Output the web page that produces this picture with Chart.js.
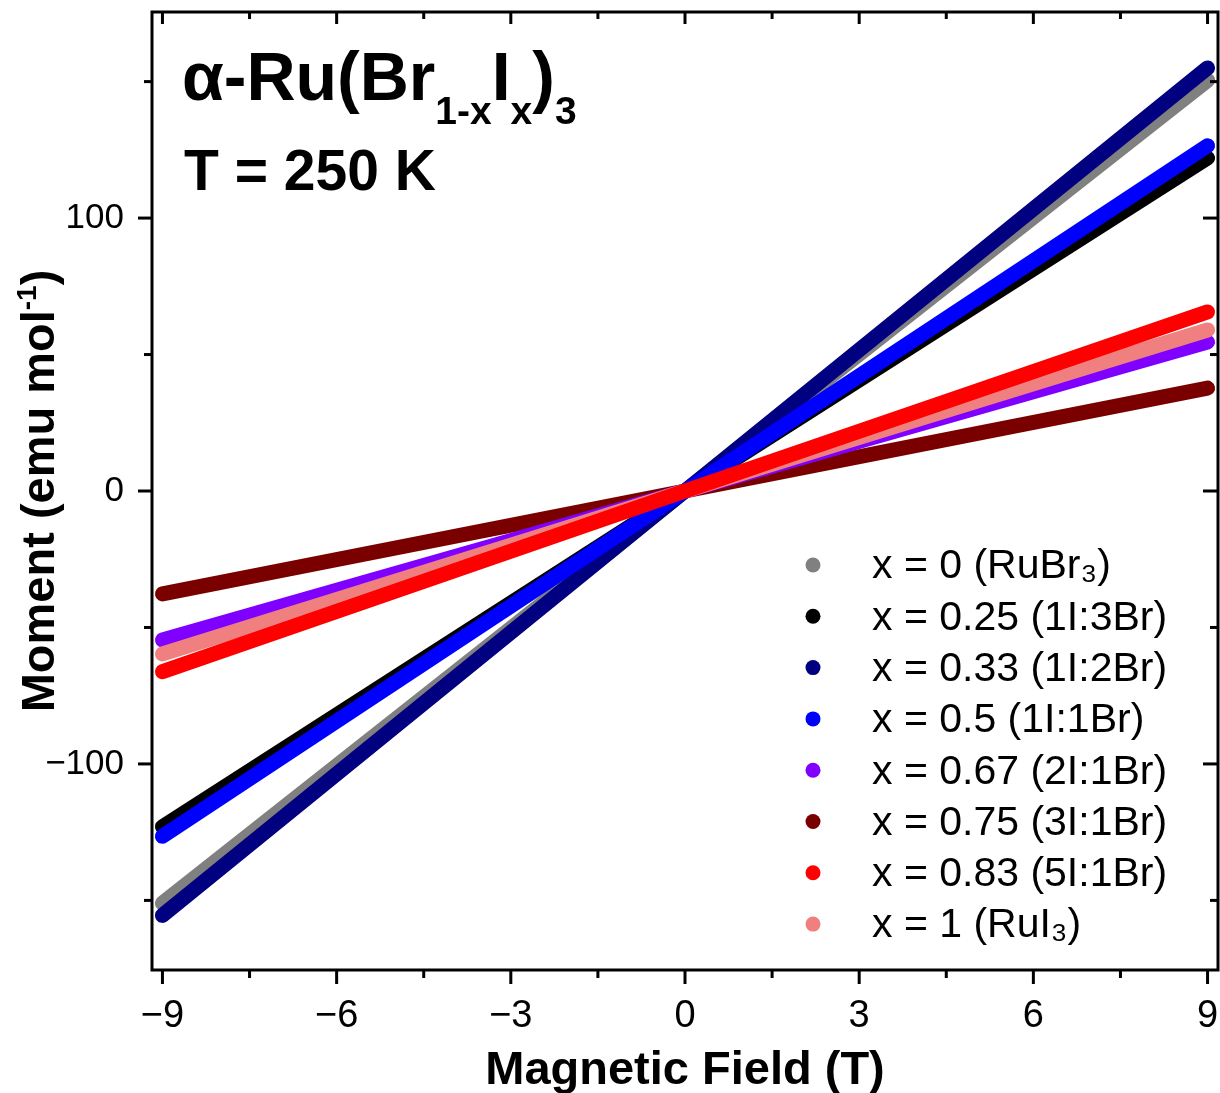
<!DOCTYPE html>
<html>
<head>
<meta charset="utf-8">
<title>Moment vs field</title>
<script src="https://cdn.jsdelivr.net/npm/chart.js@4"></script>
<style>
  html, body { margin: 0; padding: 0; background: #fff; }
  #wrap { width: 1220px; height: 1093px; }
</style>
</head>
<body>
<div id="wrap"><canvas id="mh" width="1220" height="1093"></canvas></div>
<script>
// ----- DATA -----
const field = [-9, 0, 9];                       // T
const seriesLabels = ['x = 0 (RuBr₃)', 'x = 0.25 (1I:3Br)', 'x = 0.33 (1I:2Br)', 'x = 0.5 (1I:1Br)',
                      'x = 0.67 (2I:1Br)', 'x = 0.75 (3I:1Br)', 'x = 0.83 (5I:1Br)', 'x = 1 (RuI₃)'];
const seriesColors = ['#808080', '#000000', '#000080', '#0000ff', '#8000ff', '#7a0000', '#ff0000', '#f08080'];
const x0    = [-151, 0, 150.5];                 // emu/mol
const x025  = [-123, 0, 122];
const x033  = [-155.5, 0, 155];
const x05   = [-126.5, 0, 126.5];
const x067  = [-54.6, 0, 54.6];
const x075  = [-37.7, 0, 37.7];
const x083  = [-66.2, 0, 65.6];
const x1    = [-59.7, 0, 59];
const moments = [x0, x025, x033, x05, x067, x075, x083, x1];
// lower = drawn on top
const drawOrder = [7, 6, 5, 1, 3, 4, 0, 2];

const xTicks = [-9, -6, -3, 0, 3, 6, 9];
const xMinor = [-7.5, -4.5, -1.5, 1.5, 4.5, 7.5];
const yTicks = [-100, 0, 100];
const yMinor = [-150, -50, 50, 150];

const FONT = '"Liberation Sans", Arial, Helvetica, sans-serif';
const minus = v => String(v).replace('-', '\u2212');

// ----- DATASETS -----
const datasets = moments.map((m, i) => ({
  label: seriesLabels[i],
  data: field.map((f, j) => ({x: f, y: m[j]})),
  borderColor: seriesColors[i],
  backgroundColor: seriesColors[i],
  borderWidth: 15,
  borderCapStyle: 'round',
  borderJoinStyle: 'round',
  pointRadius: 0,
  tension: 0,
  order: drawOrder[i]
}));

// scales shouldn't push the plot area in for their end labels
const noPad = s => { s.paddingTop = s.paddingBottom = s.paddingLeft = s.paddingRight = 0; };

// ----- FRAME, TICKS, TITLES, LEGEND -----
const decor = {
  id: 'decor',
  afterDraw(chart) {
    const ctx = chart.ctx;
    const a = chart.chartArea;
    const xs = chart.scales.x, ys = chart.scales.y;
    ctx.save();
    ctx.strokeStyle = '#000';
    ctx.fillStyle = '#000';

    // frame
    ctx.lineWidth = 3;
    ctx.strokeRect(a.left, a.top, a.right - a.left, a.bottom - a.top);

    // ticks: outward on bottom/left, inward on top/right
    const tick = (x1, y1, x2, y2) => { ctx.beginPath(); ctx.moveTo(x1, y1); ctx.lineTo(x2, y2); ctx.stroke(); };
    xTicks.forEach(v => {
      const p = xs.getPixelForValue(v);
      tick(p, a.bottom, p, a.bottom + 14);
      tick(p, a.top, p, a.top + 12);
    });
    xMinor.forEach(v => {
      const p = xs.getPixelForValue(v);
      tick(p, a.bottom, p, a.bottom + 8);
      tick(p, a.top, p, a.top + 7);
    });
    yTicks.forEach(v => {
      const p = ys.getPixelForValue(v);
      tick(a.left - 14, p, a.left, p);
      tick(a.right - 15, p, a.right, p);
    });
    yMinor.forEach(v => {
      const p = ys.getPixelForValue(v);
      tick(a.left - 8, p, a.left, p);
      tick(a.right - 8, p, a.right, p);
    });

    // compound name with subscripts
    ctx.textBaseline = 'alphabetic';
    ctx.textAlign = 'left';
    const runs = [
      ['α-Ru(Br', 'bold 68px', 0],
      ['1-x', 'bold 39px', 24],
      ['I', 'bold 68px', 0],
      ['x', 'bold 39px', 24],
      [')', 'bold 68px', 0],
      ['3', 'bold 39px', 24]
    ];
    let cx = 182;
    runs.forEach(([t, f, dy]) => {
      ctx.font = f + ' ' + FONT;
      ctx.fillText(t, cx, 100 + dy);
      cx += ctx.measureText(t).width;
    });
    ctx.font = 'bold 57px ' + FONT;
    ctx.fillText('T = 250 K', 184, 190);

    // x axis title
    ctx.font = 'bold 47px ' + FONT;
    ctx.textAlign = 'center';
    ctx.fillText('Magnetic Field (T)', (a.left + a.right) / 2, 1084);

    // y axis title with superscript
    ctx.save();
    ctx.translate(54, (a.top + a.bottom) / 2);
    ctx.rotate(-Math.PI / 2);
    ctx.textAlign = 'left';
    const yRuns = [['Moment (emu mol', 'bold 47px', 0], ['-1', 'bold 28px', -18], [')', 'bold 47px', 0]];
    let w = 0;
    yRuns.forEach(([t, f]) => { ctx.font = f + ' ' + FONT; w += ctx.measureText(t).width; });
    let yx = -w / 2;
    yRuns.forEach(([t, f, dy]) => {
      ctx.font = f + ' ' + FONT;
      ctx.fillText(t, yx, dy);
      yx += ctx.measureText(t).width;
    });
    ctx.restore();

    // legend
    ctx.font = '41px ' + FONT;
    ctx.textAlign = 'left';
    ctx.textBaseline = 'middle';
    seriesLabels.forEach((lab, i) => {
      const ly = 565 + i * 51.3;
      ctx.fillStyle = seriesColors[i];
      ctx.beginPath();
      ctx.arc(813, ly, 7.5, 0, Math.PI * 2);
      ctx.fill();
      ctx.fillStyle = '#000';
      ctx.fillText(lab, 872, ly + 2);
    });
    ctx.restore();
  }
};

// ----- CHART -----
new Chart(document.getElementById('mh'), {
  type: 'line',
  data: {datasets},
  options: {
    responsive: false,
    animation: false,
    layout: {padding: {top: 12, right: 2, left: 0, bottom: 0}},
    plugins: {legend: {display: false}, tooltip: {enabled: false}},
    scales: {
      x: {
        type: 'linear',
        min: -9.18, max: 9.18,
        grid: {display: false},
        border: {display: false},
        afterBuildTicks: s => { s.ticks = xTicks.map(v => ({value: v})); },
        afterFit: s => { s.height = 123; noPad(s); },
        ticks: {color: '#000', font: {family: FONT, size: 38}, padding: 16, maxRotation: 0,
                callback: v => minus(v)}
      },
      y: {
        type: 'linear',
        min: -175.5, max: 175.5,
        grid: {display: false},
        border: {display: false},
        afterBuildTicks: s => { s.ticks = yTicks.map(v => ({value: v})); },
        afterFit: s => { s.width = 152; noPad(s); },
        ticks: {color: '#000', font: {family: FONT, size: 35}, padding: 20,
                callback: v => minus(v)}
      }
    }
  },
  plugins: [decor]
});
</script>
</body>
</html>
